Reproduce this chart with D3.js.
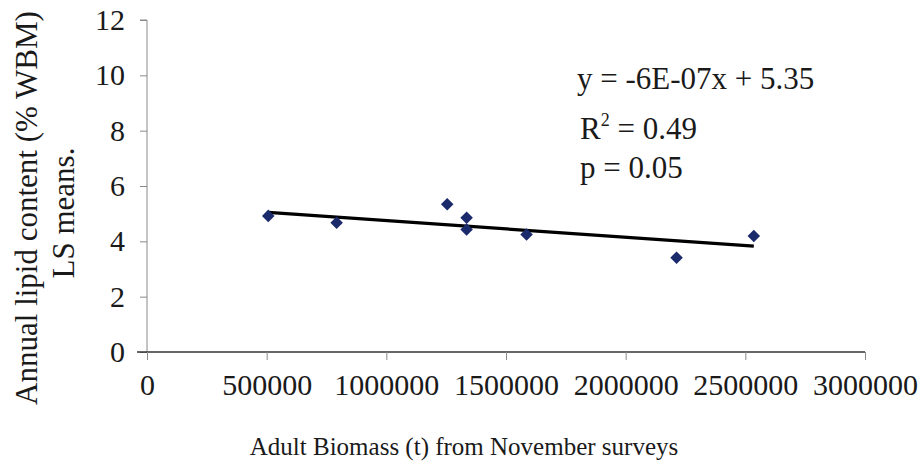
<!DOCTYPE html>
<html>
<head>
<meta charset="utf-8">
<script src="https://cdn.jsdelivr.net/npm/d3@7"></script>
<style>
  html, body { margin: 0; padding: 0; background: #fff; }
  svg, svg text { font-family: "Liberation Serif", "Times New Roman", serif !important; }
</style>
</head>
<body>
<svg id="chart" width="921" height="475"></svg>
<script>
// ---- data ----
const biomass = [506700, 792400, 1254400, 1335400, 1335400, 1586000, 2212600, 2535500];
const lipid   = [4.92, 4.67, 5.34, 4.85, 4.43, 4.25, 3.41, 4.19];
const xTicks  = [0, 500000, 1000000, 1500000, 2000000, 2500000, 3000000];
const yTicks  = [0, 2, 4, 6, 8, 10, 12];
const trendSlope = -6e-7;
const trendIntercept = 5.35;
const annotation = ["y = -6E-07x + 5.35", "R2 = 0.49", "p = 0.05"];
const xTitle = "Adult Biomass (t) from November surveys";
const yTitle = ["Annual lipid content (% WBM)", "LS means."];

const svg = d3.select("#chart");
const x = d3.scaleLinear().domain([0, 3000000]).range([147, 865]);
const y = d3.scaleLinear().domain([0, 12]).range([352, 20]);

// y axis
const yAxis = svg.append("g").attr("transform", `translate(${x(0)},0)`)
  .call(d3.axisLeft(y).tickValues(yTicks).tickSize(7).tickPadding(15).tickFormat(d3.format("d")));
yAxis.attr("font-family", null).attr("font-size", 30);
yAxis.select(".domain").attr("stroke", "#8a8a8a").attr("stroke-width", 1).attr("d", `M-7,${y(12)}H0V${y(0)}`);
yAxis.selectAll(".tick line").attr("stroke", "#8a8a8a");
yAxis.selectAll(".tick text").attr("fill", "#1a1a1a");

// x axis
const xAxis = svg.append("g").attr("transform", `translate(0,${y(0)})`)
  .call(d3.axisBottom(x).tickValues(xTicks).tickSize(8).tickPadding(14).tickFormat(d3.format("d")));
xAxis.attr("font-family", null).attr("font-size", 30);
xAxis.select(".domain").attr("stroke", "#333").attr("stroke-width", 1.4).attr("d", `M${x(0) - 10},0H${x(3000000)}`);
xAxis.selectAll(".tick line").attr("stroke", "#8a8a8a");
xAxis.selectAll(".tick text").attr("fill", "#1a1a1a");

// trend line
const xMin = d3.min(biomass), xMax = d3.max(biomass);
svg.append("line")
  .attr("x1", x(xMin)).attr("y1", y(trendSlope * xMin + trendIntercept))
  .attr("x2", x(xMax)).attr("y2", y(trendSlope * xMax + trendIntercept))
  .attr("stroke", "#000").attr("stroke-width", 3.2);

// points
const sym = d3.symbol().type(d3.symbolDiamond2).size(100);
svg.append("g").selectAll("path").data(biomass.map((b, i) => [b, lipid[i]])).join("path")
  .attr("d", sym)
  .attr("transform", d => `translate(${x(d[0])},${y(d[1])})`)
  .attr("fill", "#1b2a6b");

// annotation
const ann = svg.append("g").attr("font-size", 31).attr("fill", "#1a1a1a");
ann.append("text").attr("x", 577).attr("y", 89).text(annotation[0]);
const r2 = ann.append("text").attr("x", 580).attr("y", 139);
r2.append("tspan").text("R");
r2.append("tspan").attr("dy", -13).attr("font-size", 18).text("2");
r2.append("tspan").attr("dy", 13).text(" = 0.49");
ann.append("text").attr("x", 580).attr("y", 178).text(annotation[2]);

// axis titles
svg.append("text").attr("x", 464).attr("y", 455)
  .attr("text-anchor", "middle").attr("font-size", 25).attr("fill", "#1a1a1a").text(xTitle);

svg.append("text").attr("transform", "translate(37,208) rotate(-90)")
  .attr("text-anchor", "middle").attr("font-size", 31).attr("fill", "#1a1a1a").text(yTitle[0]);
svg.append("text").attr("transform", "translate(74,213) rotate(-90)")
  .attr("text-anchor", "middle").attr("font-size", 31).attr("fill", "#1a1a1a").text(yTitle[1]);
</script>
</body>
</html>
